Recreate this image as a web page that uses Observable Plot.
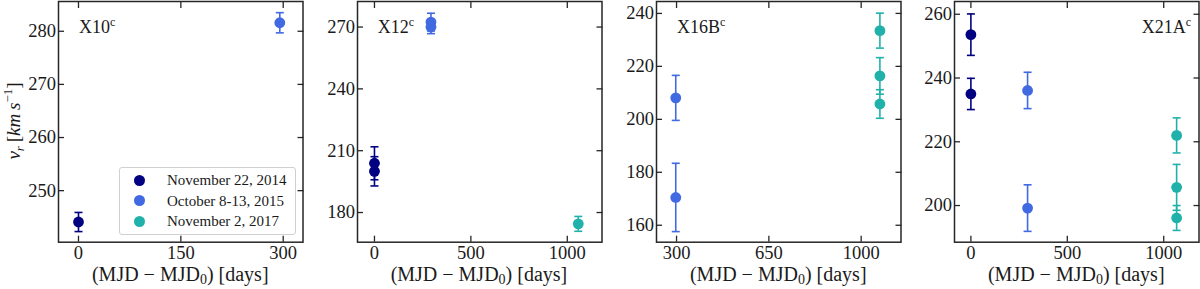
<!DOCTYPE html>
<html><head><meta charset="utf-8">
<script src="https://cdn.jsdelivr.net/npm/d3@7"></script>
<script src="https://cdn.jsdelivr.net/npm/@observablehq/plot@0.6"></script>
<style>
body{margin:0;background:#fff;}
#fig{position:relative;width:1200px;height:289px;overflow:hidden;font-family:"Liberation Serif",serif;color:#1a1a1a;}
#fig *{font-family:"Liberation Serif",serif;}
#fig svg text{font-family:"Liberation Serif",serif !important;fill:#1a1a1a;}
.panel{position:absolute;top:0;}
.ptitle{position:absolute;font-size:18px;line-height:18px;white-space:nowrap;}
.ptitle .sup{font-size:12px;position:relative;top:-7px;}
.xlab{position:absolute;top:264px;font-size:20px;line-height:20px;white-space:nowrap;transform:translateX(-50%);}
.xlab .sub{font-size:14px;position:relative;top:3px;}
.ylab{position:absolute;font-size:19px;line-height:19px;white-space:nowrap;transform:translate(-50%,-50%) rotate(-90deg);}
.ylab .sub{font-size:13px;position:relative;top:4px;}
.ylab .sup{font-size:13px;position:relative;top:-8px;}
.legend{position:absolute;border:1px solid #d0d0d0;border-radius:3px;background:rgba(255,255,255,0.8);box-sizing:border-box;}
.legend .row{position:absolute;left:0;height:20px;font-size:15px;line-height:20px;white-space:nowrap;}
.legend .sw{position:absolute;width:11px;height:11px;border-radius:50%;top:4.5px;}
.legend .tx{position:absolute;}
</style>
</head><body>
<div id="fig"></div>
<script>
// ---- data ----
const panelNames = ["X10", "X12", "X16B", "X21A"];
const epochLabels = ["November 22, 2014", "October 8-13, 2015", "November 2, 2017"];
const epochColors = ["#000080", "#4169e1", "#20b2aa"];

const ptPanel = [0, 0, 1, 1, 1, 1, 1, 2, 2, 2, 2, 2, 3, 3, 3, 3, 3, 3, 3];
const ptEpoch = [0, 1, 0, 0, 1, 1, 2, 1, 1, 2, 2, 2, 0, 0, 1, 1, 2, 2, 2];
const ptDays  = [0, 295, 0, 0, 293, 293, 1057, 297, 297, 1071, 1071, 1071, 0, 0, 294, 294, 1067, 1067, 1067];
const ptVel   = [244.1, 281.6, 203.9, 200.0, 272.4, 270.0, 174.5, 208.1, 170.5, 233.5, 216.4, 205.8, 253.6, 235.0, 236.1, 199.2, 222.0, 205.7, 196.1];
const ptErr   = [1.8, 1.9, 8.0, 7.1, 4.3, 3.2, 3.6, 8.5, 12.9, 6.6, 6.9, 5.4, 6.5, 4.9, 5.7, 7.3, 5.5, 7.2, 3.9];

const xTicks = [[0, 150, 300], [0, 500, 1000], [300, 650, 1000], [0, 500, 1000]];
const yTicks = [[250, 260, 270, 280], [180, 210, 240, 270], [160, 180, 200, 220, 240], [200, 220, 240, 260]];
const xDomains = [[-29.3, 329], [-88, 1180], [224, 1151], [-85, 1183]];
const yDomains = [[240.3, 285.6], [165.6, 282.4], [153.6, 244.5], [188.5, 264]];

// ---- layout ----
const frameLefts = [58, 356.7, 656, 954];
const mL = 56, mR = 1.5, W = 302, H = 289;
const fig = document.getElementById("fig");

const capSymbol = {draw(ctx, size) { const r = Math.sqrt(size / Math.PI); ctx.moveTo(-r, 0); ctx.lineTo(r, 0); }};
const axisColor = "#262626";
const fmt = d => String(d);

const points = ptPanel.map((p, i) => ({panel: p, epoch: ptEpoch[i], t: ptDays[i], v: ptVel[i], e: ptErr[i], c: epochColors[ptEpoch[i]]}));

panelNames.forEach((name, p) => {
  const data = points.filter(d => d.panel === p);
  const chart = Plot.plot({
    width: W, height: H,
    marginLeft: mL, marginRight: mR, marginTop: 1, marginBottom: 47.3,
    x: {domain: xDomains[p]},
    y: {domain: yDomains[p]},
    style: {background: "transparent", overflow: "visible", fontFamily: "Liberation Serif", fontSize: "18.5px", color: axisColor},
    marks: [
      Plot.axisX({anchor: "bottom", ticks: xTicks[p], tickFormat: fmt, tickSize: -6, tickPadding: 9.5, label: null, fontSize: 18.5, strokeWidth: 1.3, stroke: axisColor}),
      Plot.axisX({anchor: "top", ticks: xTicks[p], tickSize: -6, tickFormat: () => "", label: null, strokeWidth: 1.3, stroke: axisColor}),
      Plot.axisY({anchor: "left", ticks: yTicks[p], tickFormat: fmt, tickSize: -6, tickPadding: 8.5, label: null, fontSize: 18.5, strokeWidth: 1.3, stroke: axisColor}),
      Plot.axisY({anchor: "right", ticks: yTicks[p], tickSize: -6, tickFormat: () => "", label: null, strokeWidth: 1.3, stroke: axisColor}),
      Plot.ruleX(data, {x: "t", y1: d => d.v - d.e, y2: d => d.v + d.e, stroke: "c", strokeWidth: 1.6}),
      Plot.dot(data, {x: "t", y: d => d.v - d.e, symbol: capSymbol, r: 4, stroke: "c", fill: "none", strokeWidth: 1.6}),
      Plot.dot(data, {x: "t", y: d => d.v + d.e, symbol: capSymbol, r: 4, stroke: "c", fill: "none", strokeWidth: 1.6}),
      Plot.dot(data, {x: "t", y: "v", fill: "c", r: 5.4}),
      Plot.frame({stroke: axisColor, strokeWidth: 1.5})
    ]
  });
  chart.classList.add("panel");
  chart.style.left = (frameLefts[p] - mL) + "px";
  fig.appendChild(chart);

  // panel title
  const t = document.createElement("div");
  t.className = "ptitle";
  t.innerHTML = name + '<span class="sup">c</span>';
  t.style.top = "18px";
  if (p === 3) { t.style.right = (1200 - 1191) + "px"; }
  else { t.style.left = (frameLefts[p] + 21) + "px"; }
  fig.appendChild(t);

  // x label
  const xl = document.createElement("div");
  xl.className = "xlab";
  xl.innerHTML = '(MJD − MJD<span class="sub">0</span>) [days]';
  xl.style.left = (frameLefts[p] + (W - mL - mR) / 2) + "px";
  fig.appendChild(xl);
});

// y label
const yl = document.createElement("div");
yl.className = "ylab";
yl.innerHTML = '<i>v</i><span class="sub"><i>r</i></span>\u2009[<i>km\u2009s</i><span class="sup">−1</span>]';
yl.style.left = "14px"; yl.style.top = "121px";
fig.appendChild(yl);

// legend (panel 1)
const lg = document.createElement("div");
lg.className = "legend";
Object.assign(lg.style, {left: "119px", top: "167px", width: "177px", height: "68px"});
epochLabels.forEach((lab, i) => {
  const row = document.createElement("div");
  row.className = "row";
  row.style.top = (2 + i * 20.7) + "px";
  row.innerHTML = `<span class="sw" style="left:13.5px;background:${epochColors[i]}"></span><span class="tx" style="left:47px">${lab}</span>`;
  lg.appendChild(row);
});
fig.appendChild(lg);
</script>
</body></html>
